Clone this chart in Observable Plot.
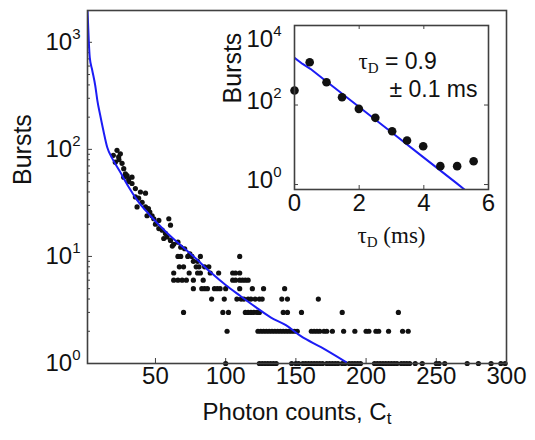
<!DOCTYPE html>
<html><head><meta charset="utf-8">
<script src="https://cdn.jsdelivr.net/npm/d3@7"></script>
<script src="https://cdn.jsdelivr.net/npm/@observablehq/plot@0.6"></script>
<style>
body{margin:0;background:#fff}
#wrap{position:relative;width:535px;height:440px;background:#fff}
#wrap svg{position:absolute;top:0}
</style></head><body><div id="wrap"></div>
<script>
// ---------- main panel data ----------
const mainTickX = [50, 100, 150, 200, 250, 300];
const mainTickY = [1, 10, 100, 1000];
const mainMinorY = [2,3,4,5,6,7,8,9,20,30,40,50,60,70,80,90,200,300,400,500,600,700,800,900];
const fitCounts = [1.6, 2.5, 3.2, 5, 7.1, 8.6, 10.7, 12.9, 15.7, 19.3, 25, 30.7, 37.1, 46.4, 57, 68, 78.6, 89.3, 100, 110.7, 121.4, 132, 142.9, 153.6, 167.9, 185.7];
const fitBursts = [2000, 1041, 722, 546, 395, 287, 207, 150, 104, 82, 61, 45, 33.4, 24, 17.2, 12.7, 9.6, 7.1, 5.4, 4.25, 3.36, 2.7, 2.28, 1.8, 1.42, 1.03];
const clusterPoints = [
  [20,88],[22.6,98],[23.8,85],[25,91],[21.4,76],[26.2,74],[27.4,66],[28.6,59],[27.4,55],[29.8,57],
  [30.9,53],[33.3,55],[33.3,48],[35.7,43],[39.3,40],[42.9,39],[35.7,36],[38,35],[36.9,29],[40.5,32],
  [42.9,29],[44,24],[47.6,24],[48.8,22.5],[50,20],[52.4,21.7],[52.4,18.2],[54.8,17.6],[57.1,16.4],
  [59.5,22.5],[60.7,19.6],[55.9,14.7],[58.3,15.2],[60.7,14.1],[24,80],[31,50],[45,28],[46,26],
  [63,13],[66,13.6],[70.8,11.8],[74.5,10.6],[62,12.5],[68,12.2]
];
const burstsRow10 = [66, 68, 73, 76, 82, 110];
const burstsRow9 = [77, 80];
const burstsRow8 = [67, 70, 79, 81, 85, 88];
const burstsRow7 = [63, 74, 80, 82, 89, 95, 105, 107, 110];
const burstsRow6 = [63, 66, 69, 72, 77, 84, 105, 107, 110, 112, 114, 116];
const burstsRow5 = [77, 83, 85, 87, 92, 94, 96, 100, 110, 119, 127, 142];
const burstsRow4 = [90, 99, 108, 111, 113, 116, 118, 121, 124, 126, 140, 144, 166];
const burstsRow3 = [70, 98, 102, 114, 116, 118, 120, 122, 124, 141, 144, 154, 183, 223];
const burstsRow2 = [101, 123, 125, 127, 129, 131, 133, 135, 137, 139, 141, 143, 145, 147, 149, 151, 161, 163, 165, 167, 170, 172, 176, 184, 192, 200, 202, 207, 209, 216, 226, 230];
const burstsRow1 = [100, 124, 126, 128, 130, 132, 134, 136, 147, 150, 152, 155, 157, 159, 161, 163, 165, 167, 169, 172, 174, 176, 178, 180, 183, 185, 188, 190, 192, 194, 196, 206, 208, 210, 212, 214, 216, 218, 220, 222, 225, 227, 229, 231, 235, 240, 250, 252, 256, 272, 280, 289, 296, 299];

// ---------- inset data ----------
const insetTickX = [0, 2, 4, 6];
const insetTickY = [1, 100, 10000];
const dwellTimes = [0, 0.47, 0.99, 1.47, 1.99, 2.5, 3.02, 3.48, 3.98, 4.51, 5.03, 5.54];
const dwellBursts = [232, 1195, 375, 157, 80, 47.6, 21.9, 12.8, 9.2, 2.9, 2.9, 3.86];
const dwellFitT = [0, 0.25, 0.49, 1, 2, 3, 4, 5, 5.45];
const dwellFitN = [1540, 1080, 813, 385, 89, 20.6, 4.76, 1.1, 0.56];

// ---------- build tables ----------
const rowSets = [[10,burstsRow10],[9,burstsRow9],[8,burstsRow8],[7,burstsRow7],[6,burstsRow6],[5,burstsRow5],[4,burstsRow4],[3,burstsRow3],[2,burstsRow2],[1,burstsRow1]];
const mainPoints = clusterPoints.map(([x,y]) => ({x, y}));
for (const [v, xs] of rowSets) for (const x of xs) mainPoints.push({x, y: v});
const fitLine = fitCounts.map((x,i) => ({x, y: fitBursts[i]}));
const dwellPts = dwellTimes.map((x,i) => ({x, y: dwellBursts[i]}));
const dwellFit = dwellFitT.map((x,i) => ({x, y: dwellFitN[i]}));

const SANS = "'Liberation Sans', Arial, Helvetica, sans-serif";
const SERIF = "'Liberation Serif', 'Times New Roman', serif";
const INK = "#111";
const FRAME = "#404040";
const BLUE = "#1c1cf5";

// main layout
const W = 535, H = 440, ML = 87, MR = 29, MT = 10, MB = 77;
const FW = W - ML - MR, FH = H - MT - MB;

const main = Plot.plot({
  width: W, height: H, marginLeft: ML, marginRight: MR, marginTop: MT, marginBottom: MB,
  style: {fontFamily: SANS, fontSize: "24px", color: INK, background: "transparent"},
  x: {type: "linear", domain: [1.6, 300], axis: null},
  y: {type: "log", domain: [1, 1982], axis: null},
  marks: [
    Plot.ruleY(mainTickY, {y: d => d, insetRight: FW - 5, stroke: FRAME, strokeWidth: 1}),
    Plot.ruleY(mainMinorY, {y: d => d, insetRight: FW - 3, stroke: FRAME, strokeWidth: 1}),
    Plot.ruleX(mainTickX, {x: d => d, insetTop: FH - 5, stroke: FRAME, strokeWidth: 1}),
    Plot.dot(mainPoints, {x: "x", y: "y", r: 2.6, fill: INK, stroke: "none"}),
    Plot.line(fitLine, {x: "x", y: "y", stroke: BLUE, strokeWidth: 2, curve: "monotone-x", clip: true}),
    Plot.frame({stroke: FRAME, strokeWidth: 1.6}),
    Plot.text(mainTickY, {y: d => d, text: d => `10^${Math.round(Math.log10(d))}`, frameAnchor: "left", textAnchor: "end", dx: -7, fontSize: 24, fill: INK}),
    Plot.text(mainTickX, {x: d => d, text: d => String(d), frameAnchor: "bottom", dy: 20, fontSize: 24, fill: INK}),
    Plot.text(["Bursts"], {text: d => d, frameAnchor: "left", rotate: -90, dx: -65, dy: -2, fontSize: 25, fill: INK}),
    Plot.text(["Photon counts, C_t"], {text: d => d, frameAnchor: "bottom", dy: 56, fontSize: 24, fill: INK})
  ]
});

// inset layout (svg placed at left 200)
const IW = 335, IH = 270, IML = 94, IMR = 47, IMT = 25, IMB = 81;
const IFW = IW - IML - IMR, IFH = IH - IMT - IMB;
const inset = Plot.plot({
  width: IW, height: IH, marginLeft: IML, marginRight: IMR, marginTop: IMT, marginBottom: IMB,
  style: {fontFamily: SANS, fontSize: "24px", color: INK, background: "transparent"},
  x: {type: "linear", domain: [0, 6], axis: null},
  y: {type: "log", domain: [0.75, 10000], axis: null},
  marks: [
    Plot.ruleX(insetTickX, {x: d => d, insetTop: IFH - 4, stroke: FRAME}),
    Plot.ruleX(insetTickX, {x: d => d, insetBottom: IFH - 4, stroke: FRAME}),
    Plot.ruleY(insetTickY, {y: d => d, insetRight: IFW - 4, stroke: FRAME}),
    Plot.ruleY(insetTickY, {y: d => d, insetLeft: IFW - 4, stroke: FRAME}),
    Plot.line(dwellFit, {x: "x", y: "y", stroke: BLUE, strokeWidth: 2, clip: true}),
    Plot.dot(dwellPts, {x: "x", y: "y", r: 4.3, fill: INK, stroke: "none"}),
    Plot.frame({stroke: FRAME, strokeWidth: 1.6}),
    Plot.text(insetTickY.filter(d => d < 10000), {y: d => d, text: d => `10^${Math.round(Math.log10(d))}`, frameAnchor: "left", textAnchor: "end", dx: -13, dy: -4, fontSize: 24, fill: INK}),
    Plot.text(insetTickY.filter(d => d >= 10000), {y: d => d, text: d => `10^${Math.round(Math.log10(d))}`, frameAnchor: "left", textAnchor: "end", dx: -13, dy: 14, fontSize: 24, fill: INK}),
    Plot.text(insetTickX, {x: d => d, text: d => String(d), frameAnchor: "bottom", dy: 21, fontSize: 24, fill: INK}),
    Plot.text(["Bursts"], {text: d => d, frameAnchor: "left", rotate: -90, dx: -62, dy: -4, fontSize: 25, fill: INK}),
    Plot.text(["τ_D (ms)"], {text: d => d, frameAnchor: "bottom", dy: 53, fontSize: 23, fontFamily: SERIF, fill: INK}),
    Plot.text(["τ_D = 0.9"], {text: d => d, frameAnchor: "top-left", textAnchor: "start", dx: 64, dy: 27, fontSize: 23, fill: INK}),
    Plot.text(["± 0.1 ms"], {text: d => d, frameAnchor: "top-right", textAnchor: "end", dx: -11, dy: 55, fontSize: 23, fill: INK})
  ]
});

// rich text: "^" superscript, "_" subscript (single char)
function rich(svg) {
  d3.select(svg).selectAll("text").each(function() {
    const t = this.textContent;
    if (!/[\^_]/.test(t)) return;
    const segs = [];
    let i = 0, buf = "";
    while (i < t.length) {
      const c = t[i];
      if ((c === "^" || c === "_") && i + 1 < t.length) {
        if (buf) { segs.push({t: buf, k: "n"}); buf = ""; }
        segs.push({t: t[i + 1], k: c === "^" ? "sup" : "sub"});
        i += 2;
      } else { buf += c; i++; }
    }
    if (buf) segs.push({t: buf, k: "n"});
    const isTau = t.startsWith("τ");
    const isAxisTau = t.includes("(ms)");
    const s = d3.select(this); s.text(null);
    let shift = 0;
    segs.forEach((g, j) => {
      const sp = s.append("tspan").text(g.t);
      const target = g.k === "sup" ? -11 : g.k === "sub" ? 4 : 0;
      if (target !== shift) { sp.attr("dy", target - shift); shift = target; }
      if (g.k === "sup") sp.attr("font-size", 15);
      if (g.k === "sub") sp.attr("font-size", isTau ? 15 : 17);
      if (isTau && !isAxisTau && j < 2) sp.attr("font-family", SERIF);
    });
  });
}
rich(main); rich(inset);
main.style.left = "0px";
inset.style.left = "200px";
const wrap = document.getElementById("wrap");
wrap.appendChild(main);
wrap.appendChild(inset);
</script></body></html>
